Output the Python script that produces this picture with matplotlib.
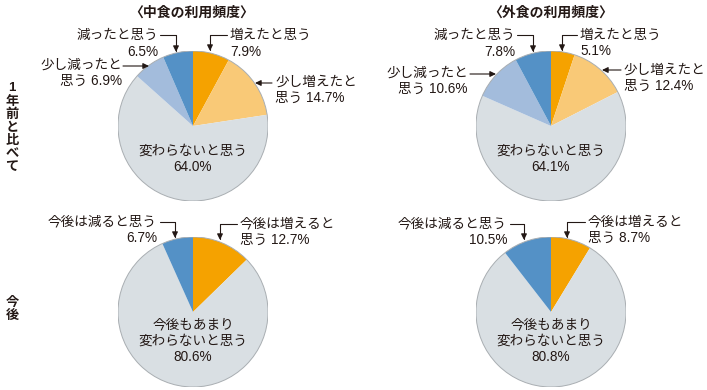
import matplotlib
matplotlib.use("Agg")
import matplotlib.pyplot as plt
from matplotlib.patches import Circle

plt.rcParams['font.family'] = ['Liberation Sans', 'Noto Sans CJK JP', 'DejaVu Sans']

W, H = 707, 390

# data
titles = ['〈中食の利用頻度〉', '〈外食の利用頻度〉']
row_labels = ['1年前と比べて', '今後']

past_labels = ['増えたと思う', '少し増えたと思う', '変わらないと思う', '少し減ったと思う', '減ったと思う']
nakashoku_past = [7.9, 14.7, 64.0, 6.9, 6.5]
gaishoku_past = [5.1, 12.4, 64.1, 10.6, 7.8]
past_colors = ['#f5a200', '#f9c977', '#d9dfe3', '#a3bcdc', '#5491c6']

future_labels = ['今後は増えると思う', '今後もあまり変わらないと思う', '今後は減ると思う']
nakashoku_future = [12.7, 80.6, 6.7]
gaishoku_future = [8.7, 80.8, 10.5]
future_colors = ['#f5a200', '#d9dfe3', '#5491c6']

TXT = '#231815'
FS = 9.8


def fx(x):
    return x / W


def fy(y):
    return 1 - y / H


fig = plt.figure(figsize=(W / 100, H / 100), dpi=100)


def make_pie(cx, cy, values, colors, r=75):
    ax = fig.add_axes([fx(cx - r), fy(cy + r), 2 * r / W, 2 * r / H])
    ax.pie(values, colors=colors, startangle=90, counterclock=False,
           radius=1, wedgeprops=dict(linewidth=0))
    ax.add_patch(Circle((0, 0), 1, fill=False, ec='#a9aeb2', lw=0.7))
    ax.set_xlim(-1, 1)
    ax.set_ylim(-1, 1)
    ax.axis('off')
    return ax


def callout(text, tx, ty, ha, start, tip, angled=True):
    fig.text(fx(tx), fy(ty), text, ha=ha, va='center', ma=ha, fontsize=FS,
             color=TXT, linespacing=1.22)
    cs = 'angle,angleA=0,angleB=90,rad=0' if angled else 'arc3'
    fig.add_artist(plt.Annotation(
        '', xy=(fx(tip[0]), fy(tip[1])), xycoords='figure fraction',
        xytext=(fx(start[0]), fy(start[1])), textcoords='figure fraction',
        arrowprops=dict(arrowstyle='-|>,head_length=0.35,head_width=0.17',
                        connectionstyle=cs, color=TXT, lw=0.8,
                        shrinkA=0, shrinkB=0)))


def pct(v):
    return f'{v:.1f}%'


# titles and row labels
for t, x in zip(titles, [192, 551]):
    fig.text(fx(x), fy(13), t, ha='center', va='center', fontsize=10,
             fontweight='bold', color=TXT, family='Noto Sans CJK JP')
fig.text(fx(12), fy(128), '\n'.join(row_labels[0]), ha='center', va='center',
         fontsize=9.5, fontweight='bold', color=TXT, linespacing=1.12)
fig.text(fx(12), fy(309), '\n'.join(row_labels[1]), ha='center', va='center',
         fontsize=9.5, fontweight='bold', color=TXT, linespacing=1.12)

# top-left: 中食 past
v = nakashoku_past
make_pie(193, 126, v, past_colors)
callout(f'減ったと思う\n{pct(v[4])}', 158, 43.5, 'right', (160, 35), (176, 52))
callout(f'増えたと思う\n{pct(v[0])}', 230, 43.5, 'left', (227, 35), (210, 51))
callout(f'少し減ったと\n思う {pct(v[3])}', 122, 73, 'right', (123, 66), (149, 66), False)
callout(f'少し増えたと\n思う {pct(v[1])}', 275, 90, 'left', (272, 83), (255, 83), False)
fig.text(fx(193), fy(159), f'変わらないと思う\n{pct(v[2])}', ha='center', va='center',
         fontsize=FS, color=TXT, linespacing=1.22)

# top-right: 外食 past
v = gaishoku_past
make_pie(551, 126, v, past_colors)
callout(f'減ったと思う\n{pct(v[4])}', 515, 43.5, 'right', (517, 35), (533, 52))
callout(f'増えたと思う\n{pct(v[0])}', 580, 43, 'left', (577, 35), (562, 51))
callout(f'少し減ったと\n思う {pct(v[3])}', 468, 81, 'right', (470, 74), (496, 74), False)
callout(f'少し増えたと\n思う {pct(v[1])}', 624, 78, 'left', (621, 70), (602, 70), False)
fig.text(fx(551), fy(159), f'変わらないと思う\n{pct(v[2])}', ha='center', va='center',
         fontsize=FS, color=TXT, linespacing=1.22)

# bottom-left: 中食 future
v = nakashoku_future
make_pie(193, 312, v, future_colors)
callout(f'今後は減ると思う\n{pct(v[2])}', 157, 230, 'right', (160, 222), (175, 238))
callout(f'今後は増えると\n思う {pct(v[0])}', 240, 232, 'left', (237, 224), (220, 240))
fig.text(fx(193), fy(341), f'今後もあまり\n変わらないと思う\n{pct(v[1])}', ha='center',
         va='center', fontsize=FS, color=TXT, linespacing=1.22)

# bottom-right: 外食 future
v = gaishoku_future
make_pie(551, 312, v, future_colors)
callout(f'今後は減ると思う\n{pct(v[2])}', 507, 231.5, 'right', (510, 224), (524, 240))
callout(f'今後は増えると\n思う {pct(v[0])}', 588, 230, 'left', (585, 222), (567, 238))
fig.text(fx(551), fy(341), f'今後もあまり\n変わらないと思う\n{pct(v[1])}', ha='center',
         va='center', fontsize=FS, color=TXT, linespacing=1.22)

fig.savefig('out.png', dpi=100)
